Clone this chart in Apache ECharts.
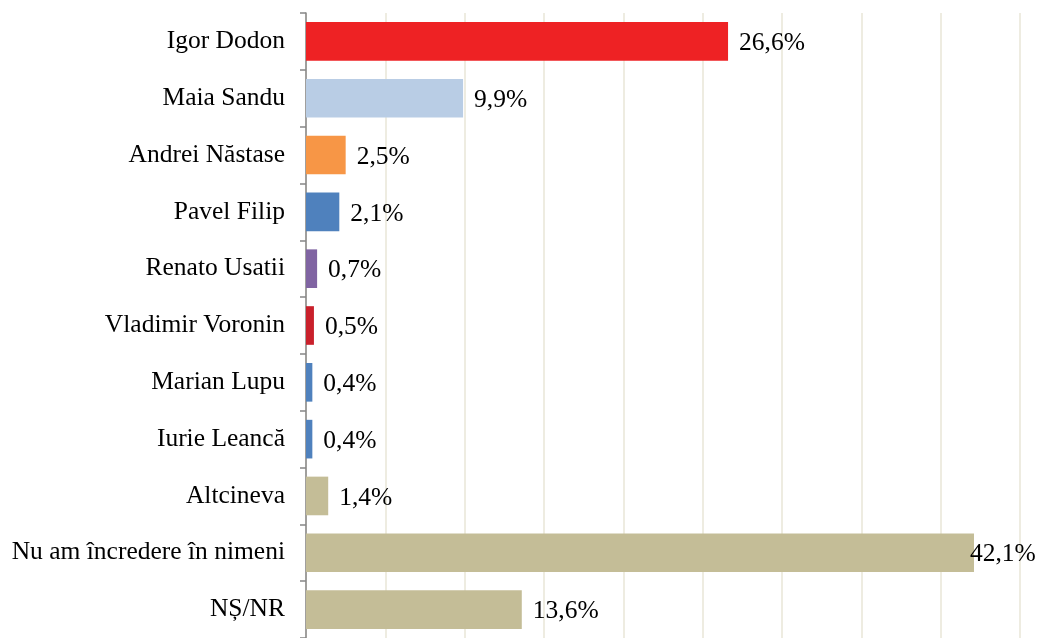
<!DOCTYPE html>
<html>
<head>
    <meta charset="utf-8">
    <title>Sondaj</title>
    <script src="https://cdn.jsdelivr.net/npm/echarts@6/dist/echarts.min.js"></script>
</head>
<body style="margin:0;background:#fff">
    <div id="main" style="width:1039px;height:638px;"></div>
    <script type="text/javascript">
        // date
        var categories = ['Igor Dodon', 'Maia Sandu', 'Andrei Năstase', 'Pavel Filip', 'Renato Usatii',
            'Vladimir Voronin', 'Marian Lupu', 'Iurie Leancă', 'Altcineva', 'Nu am încredere în nimeni', 'NȘ/NR'];
        var values = [26.6, 9.9, 2.5, 2.1, 0.7, 0.5, 0.4, 0.4, 1.4, 42.1, 13.6];
        var colors = ['#EE2224', '#B9CDE5', '#F79646', '#4F81BD', '#8064A2', '#C9202B',
            '#4F81BD', '#4F81BD', '#C4BD97', '#C4BD97', '#C4BD97'];

        var myChart = echarts.init(document.getElementById('main'));

        var data = values.map(function (v, i) {
            var item = { value: v, itemStyle: { color: colors[i] } };
            if (v > 40) item.label = { offset: [-15, 2] };   // eticheta se suprapune pe bara
            return item;
        });

        var option = {
            animation: false,
            grid: { left: 306, right: 19, top: 13, height: 632 },
            xAxis: {
                type: 'value',
                min: 0,
                max: 45,
                interval: 5,
                axisLine: { show: false },
                axisTick: { show: false },
                axisLabel: { show: false },
                splitLine: { lineStyle: { color: '#EEECE1', width: 2 } }
            },
            yAxis: {
                type: 'category',
                inverse: true,
                data: categories,
                axisLine: { lineStyle: { color: '#868686', width: 1.5 } },
                axisTick: { show: true, length: 6, lineStyle: { color: '#868686', width: 1.5 } },
                axisLabel: {
                    margin: 21,
                    color: '#000',
                    fontFamily: 'Liberation Serif',
                    fontSize: 25.5,
                    padding: [4, 0, 0, 0]
                }
            },
            series: [{
                type: 'bar',
                data: data,
                barWidth: '68%',
                label: {
                    show: true,
                    position: 'right',
                    distance: 11,
                    offset: [0, 2],
                    color: '#000',
                    fontFamily: 'Liberation Serif',
                    fontSize: 25.5,
                    formatter: function (p) {
                        return p.value.toFixed(1).replace('.', ',') + '%';
                    }
                }
            }]
        };

        myChart.setOption(option);
    </script>
</body>
</html>
